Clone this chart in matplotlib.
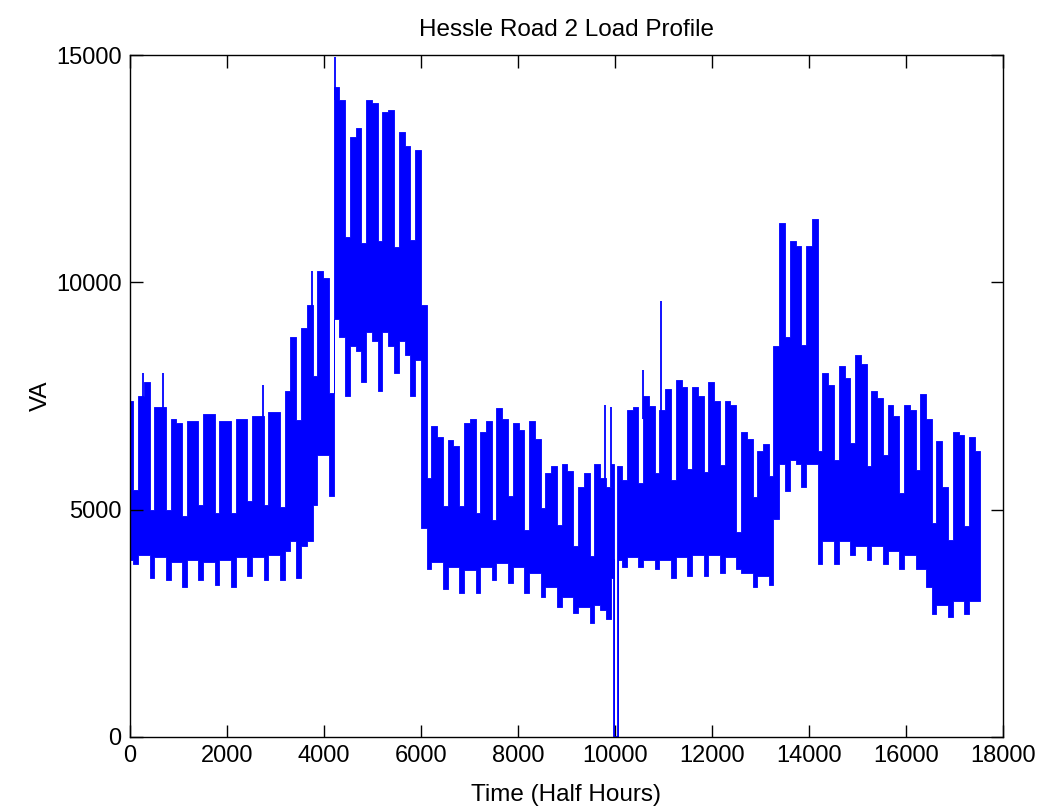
import matplotlib
matplotlib.use("Agg")
import matplotlib.pyplot as plt
import numpy as np

# ---------------- data (VA) ----------------
# Weekly envelope of the half-hourly load, 53 (partial) weeks.
# Each week: weekdays split into two halves (a, b) and a weekend part.
week_start = -171          # half-hour index of the first (partial) week's Monday
week_len = 336             # half hours per week
half_weekday = 120         # half hours in half of the working week

hi_a = [7380, 7500, 7260, 7000, 6950, 7100, 6950, 7000, 7050, 7150,
        7600, 9000, 10250, 14300, 13200, 14000, 13750, 13300, 12900, 6830,
        6530, 6900, 6700, 7230, 6900, 6950, 5800, 6000, 5500, 6000,
        6000, 7200, 7500, 7200, 7850, 7700, 7800, 7400, 6700, 6300,
        8600, 10900, 10800, 8000, 8150, 8400, 7600, 7300, 7300, 7550,
        6500, 6700, 6600]
hi_b = [7380, 7800, 7260, 6900, 6950, 7100, 6950, 7000, 7050, 7150,
        8800, 9500, 10100, 14000, 13400, 13950, 13800, 13000, 9500, 6600,
        6400, 7000, 6950, 7000, 6750, 6550, 5950, 5850, 5800, 5700,
        5950, 7250, 7270, 7650, 7700, 7500, 7400, 7300, 6550, 6450,
        11300, 10800, 11400, 7750, 7900, 8200, 7450, 7050, 7200, 7000,
        5500, 6650, 6300]
we_hi = [5430, 5000, 5000, 4850, 5100, 4920, 4920, 5180, 5100, 5060,
         6970, 7930, 7570, 11000, 10860, 10900, 10780, 10930, 5700, 5070,
         5070, 4920, 4770, 5290, 4550, 5030, 4660, 4190, 3970, 5500,
         5650, 5580, 5800, 5650, 5900, 5830, 5980, 4500, 5280, 5730,
         8800, 8620, 6300, 6100, 6460, 5950, 6200, 5360, 5870, 4700,
         4330, 4630, 5000]
lo_a = [3900, 4000, 3950, 3850, 3900, 3850, 3900, 3950, 3950, 4000,
        4100, 4200, 6200, 9200, 8600, 8900, 8900, 8700, 8300, 3850,
        3750, 3670, 3750, 3820, 3750, 3600, 3300, 3090, 2870, 2900,
        3500, 3950, 3900, 3900, 3950, 4000, 4000, 3950, 3600, 3550,
        4800, 6100, 6000, 4300, 4300, 4200, 4200, 4100, 4000, 3700,
        2900, 3000, 3000]
lo_b = [3900, 4000, 3950, 3850, 3900, 3850, 3900, 3950, 3950, 4000,
        4300, 4300, 6200, 8800, 8500, 8700, 8600, 8400, 4600, 3850,
        3750, 3670, 3750, 3820, 3750, 3600, 3300, 3090, 2870, 2800,
        3900, 3950, 3900, 3900, 3950, 4000, 4000, 3950, 3600, 3550,
        6000, 6000, 6000, 4300, 4300, 4200, 4200, 4100, 4000, 3300,
        2900, 3000, 3000]
we_lo = [3800, 3500, 3450, 3300, 3450, 3350, 3300, 3550, 3450, 3450,
         3500, 5100, 5300, 7500, 7800, 7600, 8000, 7500, 3700, 3250,
         3160, 3160, 3450, 3380, 3160, 3090, 2870, 2720, 2500, 2600,
         3750, 3750, 3700, 3500, 3550, 3550, 3600, 3700, 3300, 3350,
         5400, 5500, 3800, 3800, 4000, 3900, 3800, 3700, 3700, 2700,
         2650, 2700, 3000]

# isolated spikes: time (half hours), bottom, top (VA)
spike_t = [268, 680, 2742, 3745, 4230, 9794, 9918, 10584, 10950]
spike_lo = [6000, 6000, 6000, 9000, 14000, 5500, 5500, 7000, 5500]
spike_hi = [8000, 8000, 7740, 10240, 14960, 7300, 7250, 8070, 9580]

# supply outage around half hour 10000
outage_t = [9975, 9975, 10060, 10060]
outage_va = [3900, 0, 0, 5940]

n_samples = 17520

# ---------------- build step envelope ----------------
segs = []
for k in range(len(hi_a)):
    s = week_start + k * week_len
    parts = [(s, s + half_weekday, lo_a[k], hi_a[k]),
             (s + half_weekday, s + 2 * half_weekday, lo_b[k], hi_b[k]),
             (s + 2 * half_weekday, s + week_len, we_lo[k], we_hi[k])]
    for a, b, lo, hi in parts:
        a, b = max(a, 0), min(b, n_samples)
        if b > a:
            segs.append((a, b, lo, hi))

o1, o2 = outage_t[0], outage_t[2]
final = []
for a, b, lo, hi in segs:
    if b <= o1 or a >= o2:
        final.append((a, b, lo, hi))
    else:
        if a < o1:
            final.append((a, o1, lo, hi))
        final.append((max(a, o1), min(b, o2), 0, 0))
        if b > o2:
            final.append((o2, b, lo, hi))

edges = [f[0] for f in final] + [final[-1][1]]
lows = [f[2] for f in final] + [final[-1][2]]
highs = [f[3] for f in final] + [final[-1][3]]

# ---------------- plot ----------------
plt.rcParams['font.family'] = ['Liberation Sans', 'DejaVu Sans']
fig = plt.figure(figsize=(10.43, 8.09), dpi=100)
ax = fig.add_axes([0.1246, 0.089, 0.837, 0.843])

ax.fill_between(edges, lows, highs, step='post', color='#0000ff',
                linewidth=0.6, edgecolor='#0000ff')
ax.vlines(spike_t, spike_lo, spike_hi, color='#0000ff', linewidth=1.3)
ax.plot(outage_t, outage_va, color='#0000ff', linewidth=1.3)

ax.set_xlim(0, 18000)
ax.set_ylim(0, 15000)
ax.set_xticks(np.arange(0, 18001, 2000))
ax.set_yticks([0, 5000, 10000, 15000])
ax.tick_params(direction='in', length=9, width=1, top=True, right=True,
               labelsize=17, pad=6)
for sp in ax.spines.values():
    sp.set_linewidth(1.0)

ax.set_title('Hessle Road 2 Load Profile', fontsize=17.5, pad=14)
ax.set_xlabel('Time (Half Hours)', fontsize=17.5, labelpad=12)
ax.set_ylabel('VA', fontsize=17.5, labelpad=3)

fig.savefig('out.png', dpi=100)
